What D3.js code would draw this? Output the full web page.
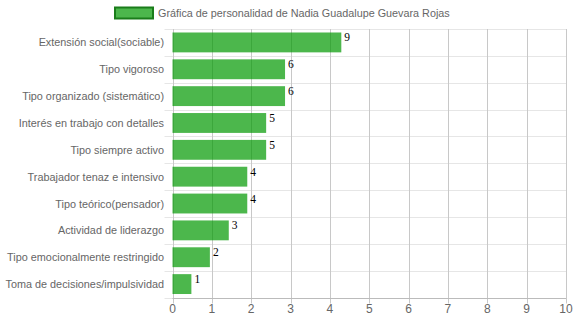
<!DOCTYPE html>
<html><head><meta charset="utf-8">
<script src="https://cdn.jsdelivr.net/npm/d3@7"></script>
<style>body{margin:0;background:#fff}svg{display:block}</style>
</head><body>
<svg id="c" width="574" height="323"></svg>
<script>
const categories = ["Extensión social(sociable)","Tipo vigoroso","Tipo organizado (sistemático)","Interés en trabajo con detalles","Tipo siempre activo","Trabajador tenaz e intensivo","Tipo teórico(pensador)","Actividad de liderazgo","Tipo emocionalmente restringido","Toma de decisiones/impulsividad"];
const values = [4.29, 2.86, 2.86, 2.38, 2.38, 1.90, 1.90, 1.43, 0.95, 0.48];
const valueLabels = ["9","6","6","5","5","4","4","3","2","1"];
const xTicks = [0,1,2,3,4,5,6,7,8,9,10];
const legendLabel = "Gráfica de personalidad de Nadia Guadalupe Guevara Rojas";

const svg = d3.select("#c");
const m = {l:172.5, r:566, t:29, b:297.5};
const x = d3.scaleLinear().domain([0,10]).range([m.l, m.r]);
const y = d3.scaleBand().domain(categories).range([m.t, m.b]).paddingInner(0.26).paddingOuter(0.13);
const bandStep = (m.b - m.t)/categories.length;
const sans = "Liberation Sans, Arial, sans-serif";

// horizontal grid lines (category boundaries)
const hg = svg.append("g");
for (let i = 0; i <= categories.length; i++) {
  const yy = Math.round(m.t + i*bandStep) + 0.5;
  hg.append("line").attr("x1", m.l - 8).attr("x2", m.r).attr("y1", yy).attr("y2", yy)
    .attr("stroke", "#e6e6e6").attr("stroke-width", 1);
}
// vertical grid lines
svg.append("g").selectAll("line").data(xTicks).join("line")
  .attr("x1", d => Math.round(x(d)) + 0.5).attr("x2", d => Math.round(x(d)) + 0.5)
  .attr("y1", m.t).attr("y2", m.b + 6)
  .attr("stroke", "#c8c8c8").attr("stroke-width", 1);

// bars
svg.append("g").selectAll("rect").data(values).join("rect")
  .attr("x", x(0)).attr("y", (d,i) => y(categories[i]))
  .attr("width", d => x(d) - x(0)).attr("height", y.bandwidth())
  .attr("fill", "rgba(0,153,0,0.7)");

// bottom axis line
svg.append("line").attr("x1", m.l).attr("x2", m.r).attr("y1", Math.round(m.b)+0.5).attr("y2", Math.round(m.b)+0.5)
  .attr("stroke", "#bbbbbb");

// x tick labels
svg.append("g").selectAll("text").data(xTicks).join("text")
  .attr("x", d => x(d)).attr("y", 313)
  .attr("text-anchor", "middle")
  .attr("font-family", sans).attr("font-size", 12)
  .attr("fill", "#666").text(d => d);

// category labels
svg.append("g").selectAll("text").data(categories).join("text")
  .attr("x", 164).attr("y", d => y(d) + y.bandwidth()/2 + 4)
  .attr("text-anchor", "end")
  .attr("font-family", sans).attr("font-size", 10.85)
  .attr("fill", "#666").text(d => d);

// value labels
svg.append("g").selectAll("text").data(values).join("text")
  .attr("x", d => x(d) + 3).attr("y", (d,i) => y(categories[i]) + 9)
  .attr("font-family", "Liberation Serif, Times New Roman, serif").attr("font-size", 11.5)
  .attr("fill", "#000").text((d,i) => valueLabels[i]);

// legend
svg.append("rect").attr("x", 115).attr("y", 7.5).attr("width", 38).attr("height", 11)
  .attr("fill", "rgba(0,153,0,0.7)").attr("stroke", "#1a7d1a").attr("stroke-width", 2);
svg.append("text").attr("x", 158).attr("y", 17)
  .attr("font-family", sans).attr("font-size", 10.8)
  .attr("fill", "#666").text(legendLabel);
</script>
</body></html>
